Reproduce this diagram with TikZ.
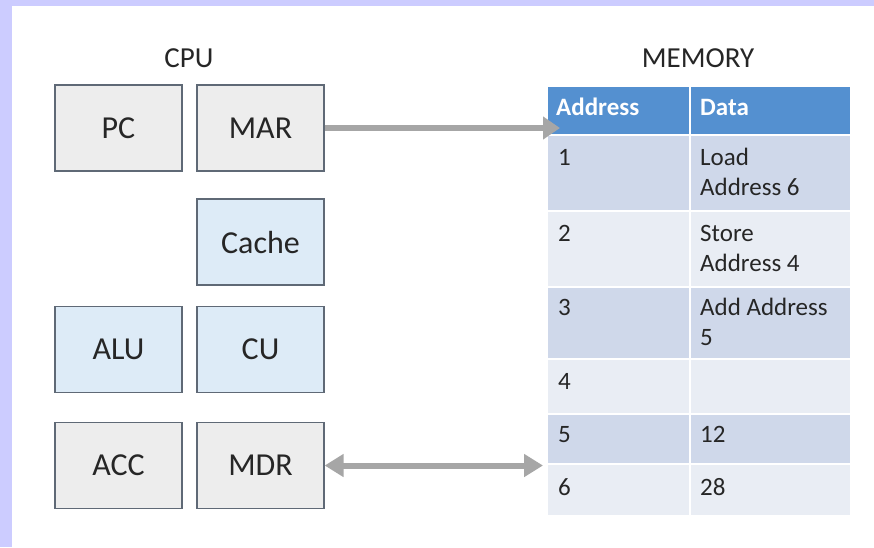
\documentclass[tikz,border=0pt]{standalone}
\usepackage{fontspec}
\setmainfont{Carlito}
\usetikzlibrary{arrows.meta}
\definecolor{lav}{RGB}{204,204,255}
\definecolor{graybox}{RGB}{237,237,237}
\definecolor{bluebox}{RGB}{221,235,247}
\definecolor{boxline}{RGB}{95,105,118}
\definecolor{hdr}{RGB}{84,144,208}
\definecolor{rowdark}{RGB}{207,216,234}
\definecolor{rowlight}{RGB}{233,237,244}
\definecolor{arrgray}{RGB}{166,166,166}
\definecolor{txt}{RGB}{38,38,38}
\newcommand\cellstrut{\rule{0pt}{22pt}}
\begin{document}
\begin{tikzpicture}[x=1pt,y=-1pt,
  reg/.style={draw=boxline, line width=1.3pt, minimum width=127pt, minimum height=86pt, inner sep=0pt, text=txt, font=\fontsize{32}{38}\selectfont},
  grayreg/.style={reg, fill=graybox},
  bluereg/.style={reg, fill=bluebox},
  cell/.style={draw=white, line width=1.5pt, anchor=north west, inner sep=0pt},
  celltext/.style={anchor=north west, inner sep=0pt, align=left, text=txt, font=\fontsize{25}{30}\selectfont},
  hdrtext/.style={anchor=base west, inner sep=0pt, text=white, font=\fontsize{25}{30}\selectfont\bfseries},
  title/.style={text=txt, font=\fontsize{29}{34}\selectfont},
  conn/.style={draw=arrgray, line width=6pt}
]
\fill[white] (0,0) rectangle (874,547);
\fill[lav] (0,0) rectangle (874,6);
\fill[lav] (0,0) rectangle (12,547);
\useasboundingbox (0,0) rectangle (874,547);

% titles
\node[title] (cpu) at (189,58) {CPU};
\node[title] (mem) at (698,58) {MEMORY};

% CPU registers
\node[grayreg] (pc) at (118.5,128) {PC};
\node[grayreg] (mar) at (260.5,128) {MAR};
\node[bluereg] (cache) at (260.5,242) {Cache};
\node[bluereg] (alu) at (118.5,349.5) {ALU};
\node[bluereg] (cu) at (260.5,349.5) {CU};
\node[grayreg] (acc) at (118.5,465.5) {ACC};
\node[grayreg] (mdr) at (260.5,465.5) {MDR};

% memory table cells
\node[cell, fill=hdr, minimum width=143pt, minimum height=49pt] (hA) at (546,85) {};
\node[cell, fill=hdr, minimum width=161pt, minimum height=49pt] (hD) at (689,85) {};
\node[cell, fill=rowdark, minimum width=143pt, minimum height=76pt] (r1a) at (546,134) {};
\node[cell, fill=rowdark, minimum width=161pt, minimum height=76pt] (r1d) at (689,134) {};
\node[cell, fill=rowlight, minimum width=143pt, minimum height=76pt] (r2a) at (546,210) {};
\node[cell, fill=rowlight, minimum width=161pt, minimum height=76pt] (r2d) at (689,210) {};
\node[cell, fill=rowdark, minimum width=143pt, minimum height=72pt] (r3a) at (546,286) {};
\node[cell, fill=rowdark, minimum width=161pt, minimum height=72pt] (r3d) at (689,286) {};
\node[cell, fill=rowlight, minimum width=143pt, minimum height=55pt] (r4a) at (546,358) {};
\node[cell, fill=rowlight, minimum width=161pt, minimum height=55pt] (r4d) at (689,358) {};
\node[cell, fill=rowdark, minimum width=143pt, minimum height=50pt] (r5a) at (546,413) {};
\node[cell, fill=rowdark, minimum width=161pt, minimum height=50pt] (r5d) at (689,413) {};
\node[cell, fill=rowlight, minimum width=143pt, minimum height=52pt] (r6a) at (546,463) {};
\node[cell, fill=rowlight, minimum width=161pt, minimum height=52pt] (r6d) at (689,463) {};

% table texts
\node[hdrtext] (tA) at (556,115) {Address};
\node[hdrtext] (tD) at (700,115) {Data};
\node[celltext] (t1a) at (558,143) {\cellstrut 1};
\node[celltext] (t1d) at (700,143) {\cellstrut Load\\Address 6};
\node[celltext] (t2a) at (558,219) {\cellstrut 2};
\node[celltext] (t2d) at (700,219) {\cellstrut Store\\Address 4};
\node[celltext] (t3a) at (558,293) {\cellstrut 3};
\node[celltext] (t3d) at (700,293) {\cellstrut Add Address\\5};
\node[celltext] (t4a) at (558,367) {\cellstrut 4};
\node[celltext] (t5a) at (558,420) {\cellstrut 5};
\node[celltext] (t5d) at (700,420) {\cellstrut 12};
\node[celltext] (t6a) at (558,473) {\cellstrut 6};
\node[celltext] (t6d) at (700,473) {\cellstrut 28};

% connectors
\coordinate (marT) at (560,128);
\coordinate (mdrT) at (543,465.5);
\draw[conn, -{Triangle[length=17pt,width=22pt]}] (mar.east) -- (marT);
\draw[conn, {Triangle[length=19pt,width=22pt]}-{Triangle[length=19pt,width=22pt]}] (mdr.east) -- (mdrT);
\end{tikzpicture}
\end{document}
